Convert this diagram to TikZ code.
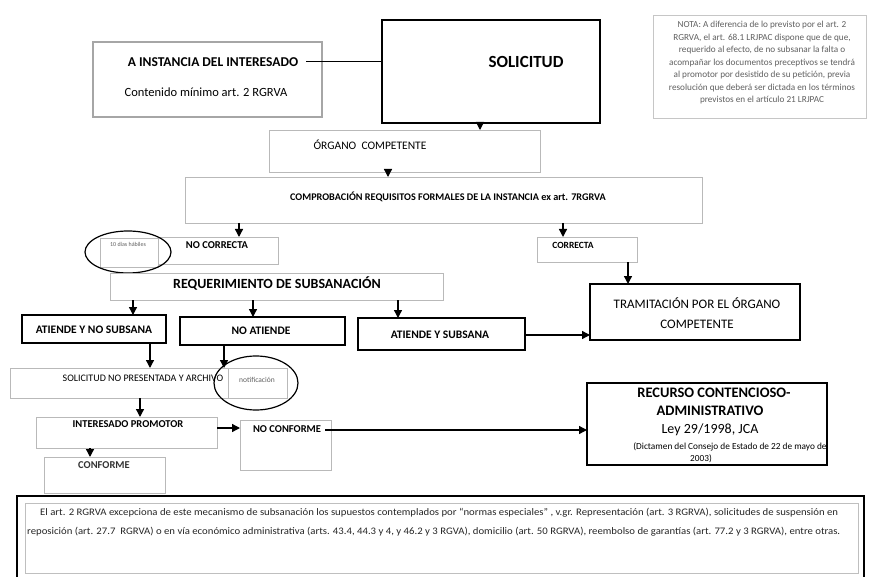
\documentclass[tikz,border=0pt]{standalone}
\usepackage{fontspec}
\setmainfont{Carlito}
\usepackage{graphicx}
\usepackage{tikz}
\usetikzlibrary{arrows.meta,positioning,shapes.geometric}

\begin{document}
\begin{tikzpicture}[x=1pt,y=-1pt,
  caja/.style={draw=gray!55,line width=0.9pt,inner sep=0pt,outer sep=0pt},
  cajanegra/.style={draw=black,line width=1.8pt,inner sep=0pt,outer sep=0pt},
  flecha/.style={line width=1.3pt,-{Triangle[length=8pt,width=8pt]}},
  aro/.style={draw=black,line width=1.2pt,ellipse,inner sep=0pt},
  negrita/.style={font=\fontsize{10.5}{12}\selectfont\bfseries,inner sep=0pt},
  negritaG/.style={font=\fontsize{11.5}{13}\selectfont\bfseries,inner sep=0pt},
  grande/.style={font=\fontsize{12}{14}\selectfont,inner sep=0pt},
  nota/.style={text=gray!75!black,inner sep=0pt}]
%Koordinaten wie im Bild (Pixel), y nach unten
\useasboundingbox (0,0) rectangle (869,577);
\fill[white] (0,0) rectangle (869,577);

%Kopf
\node[caja,draw=gray!70,line width=1.2pt,minimum width=229pt,minimum height=75pt] (instancia) at (207.5,79.5) {};
\node[grande,font=\fontsize{13.5}{15}\selectfont\bfseries] (tinst) at (213,62) {A INSTANCIA DEL INTERESADO};
\node[grande,font=\fontsize{12.5}{14}\selectfont] (tcont) at (206,92) {Contenido mínimo art. 2 RGRVA};
\node[cajanegra,minimum width=218pt,minimum height=103pt] (solicitud) at (491,71.5) {};
\node[inner sep=0pt,font=\fontsize{17}{20}\selectfont\bfseries] (tsol) at (526,62) {SOLICITUD};
\node[caja,draw=gray!45,minimum width=213pt,minimum height=103pt] (nota) at (759.5,66.5) {};
\node[nota,font=\fontsize{9.2}{12.5}\selectfont,align=center] (tnota) at (762,63)
  {NOTA: A diferencia de lo previsto por el art. 2\\
   RGRVA, el art. 68.1 LRJPAC dispone que de que,\\
   requerido al efecto, de no subsanar la falta o\\
   acompañar los documentos preceptivos se tendrá\\
   al promotor por desistido de su petición, previa\\
   resolución que deberá ser dictada en los términos\\
   previstos en el artículo 21 LRJPAC};
\node[caja,minimum width=271pt,minimum height=42pt] (organo) at (404.5,151) {};
\node[grande,font=\fontsize{11.5}{14}\selectfont] (torg) at (370,145) {ÓRGANO~ COMPETENTE};
\node[caja,minimum width=517pt,minimum height=46pt] (comprobacion) at (443.5,200) {};
\node[negrita,font=\fontsize{10.2}{12}\selectfont\bfseries] (tcomp) at (448,197) {COMPROBACIÓN REQUISITOS FORMALES DE LA INSTANCIA ex art. 7RGRVA};

%Pruefung
\node[caja,minimum width=58pt,minimum height=29pt] (plazo) at (129,252.5) {};
\node[nota,font=\fontsize{6}{7}\selectfont] (tplazo) at (128,244) {10 días hábiles};
\node[caja,minimum width=120pt,minimum height=27pt] (nocorrecta) at (218,250.5) {};
\node[negrita] (tnoc) at (217,245) {NO CORRECTA};
\node[aro,minimum width=86pt,minimum height=42pt] (aro1) at (128,252) {};
\node[caja,minimum width=100pt,minimum height=25pt] (correcta) at (587,249.5) {};
\node[negrita,font=\fontsize{9.5}{11}\selectfont\bfseries] (tcor) at (573,245) {CORRECTA};
\node[caja,minimum width=333pt,minimum height=27pt] (requerimiento) at (276.5,286.5) {};
\node[inner sep=0pt,font=\fontsize{14}{16}\selectfont\bfseries] (treq) at (277,283) {REQUERIMIENTO DE SUBSANACIÓN};
\node[cajanegra,minimum width=144pt,minimum height=28pt] (atnosub) at (94,329) {};
\node[negritaG] (tans) at (94,330) {ATIENDE Y NO SUBSANA};
\node[cajanegra,minimum width=165pt,minimum height=28pt] (noatiende) at (262.5,331) {};
\node[negritaG] (tnoa) at (261,331) {NO ATIENDE};
\node[cajanegra,line width=1.4pt,minimum width=167pt,minimum height=32pt] (atsub) at (441.5,334) {};
\node[negritaG] (tats) at (440,335) {ATIENDE Y SUBSANA};
\node[cajanegra,line width=2.2pt,minimum width=210pt,minimum height=56pt] (tramitacion) at (695,312) {};
\node[grande,align=center,font=\fontsize{13}{20}\selectfont] (ttra) at (697,313) {TRAMITACIÓN POR EL ÓRGANO\\COMPETENTE};

%Archivo und Recurso
\node[caja,minimum width=277pt,minimum height=30pt] (nopresentada) at (148.5,383) {};
\draw[caja] (nopresentada.north -| 228,0) -- (nopresentada.south -| 228,0);
\node[inner sep=0pt,font=\fontsize{10}{12}\selectfont] (tnop) at (143,378) {SOLICITUD NO PRESENTADA Y ARCHIVO};
\node[nota,font=\fontsize{7.5}{8}\selectfont] (tnotif) at (257,380) {notificación};
\node[aro,minimum width=84pt,minimum height=54pt] (aro2) at (256,383) {};
\node[caja,minimum width=181pt,minimum height=31pt] (interesado) at (126.5,432.5) {};
\node[negrita] (tint) at (128,424) {INTERESADO PROMOTOR};
\node[caja,minimum width=121pt,minimum height=36pt] (conforme) at (104.5,475) {};
\node[negrita,font=\fontsize{10.5}{12}\selectfont\bfseries,text=black!80] (tconf) at (104,465) {CONFORME};
\node[caja,minimum width=91pt,minimum height=50pt] (noconforme) at (285.5,445) {};
\node[negrita] (tnoconf) at (287,429) {NO CONFORME};
\node[cajanegra,line width=1.3pt,minimum width=240pt,minimum height=82pt] (recurso) at (707,424) {};
\node[inner sep=0pt,font=\fontsize{14.5}{16}\selectfont\bfseries] (trec) at (714,393) {RECURSO CONTENCIOSO-};
\node[inner sep=0pt,font=\fontsize{14.5}{16}\selectfont\bfseries] (tadm) at (710,411) {ADMINISTRATIVO};
\node[grande,font=\fontsize{14}{16}\selectfont] (tley) at (710,430) {Ley 29/1998, JCA};
\node[inner sep=0pt,font=\fontsize{9.3}{10}\selectfont] (tdict) at (730,447) {(Dictamen del Consejo de Estado de 22 de mayo de};
\node[inner sep=0pt,font=\fontsize{9.3}{10}\selectfont] (tanio) at (701,459) {2003)};

%Fussnote
\draw[line width=2.4pt] (17,580) |- (864,496) -- (864,580);
\node[caja,draw=gray!50,minimum width=833pt,minimum height=70pt] (notafinal) at (441.5,538) {};
\node[inner sep=0pt,anchor=west,align=left,font=\fontsize{10}{19}\selectfont,text=black!85] (tfin) at (27,522)
  {\hspace*{13pt}\resizebox{798pt}{\height}{El art. 2 RGRVA excepciona de este mecanismo de subsanación los supuestos contemplados por “normas especiales” , v.gr. Representación (art. 3 RGRVA), solicitudes de suspensión en}\\
   \resizebox{813pt}{\height}{reposición (art. 27.7 \ RGRVA) o en vía económico administrativa (arts. 43.4, 44.3 y 4, y 46.2 y 3 RGVA), domicilio (art. 50 RGRVA), reembolso de garantías (art. 77.2 y 3 RGRVA), entre otras.}};

%Pfeile
\draw[line width=1pt] ([xshift=8pt]tinst.east) -- (solicitud.west |- tinst.east);
\draw[flecha] (solicitud.south -| 480,0) -- (organo.north -| 480,0);
\draw[flecha] (organo.south -| 388,0) -- (comprobacion.north -| 388,0);
\draw[flecha] (comprobacion.south -| 239,0) -- (nocorrecta.north -| 239,0);
\draw[flecha] (comprobacion.south -| 563,0) -- (correcta.north -| 563,0);
\draw[flecha] (correcta.south -| 628,0) -- (tramitacion.north -| 628,0);
\foreach \xa/\ziel in {133/atnosub,253/noatiende,398/atsub}
  \draw[flecha] (requerimiento.south -| \xa,0) -- (\ziel.north -| \xa,0);
\draw[flecha] (atsub.east |- 0,335) -- (tramitacion.west |- 0,335);
\draw[flecha] (atnosub.south -| 150,0) -- (nopresentada.north -| 150,0);
\draw[flecha] (noatiende.south -| 224,0) -- (nopresentada.north -| 224,0);
\draw[flecha] (nopresentada.south -| 140,0) -- (interesado.north -| 140,0);
\draw[flecha] (interesado.south -| 90,0) -- (conforme.north -| 90,0);
\draw[flecha] (interesado.east |- 0,428) -- (noconforme.west |- 0,428);
\draw[flecha] ([xshift=4pt]tnoconf.east |- 0,430) -- (recurso.west |- 0,430);
\end{tikzpicture}
\end{document}
